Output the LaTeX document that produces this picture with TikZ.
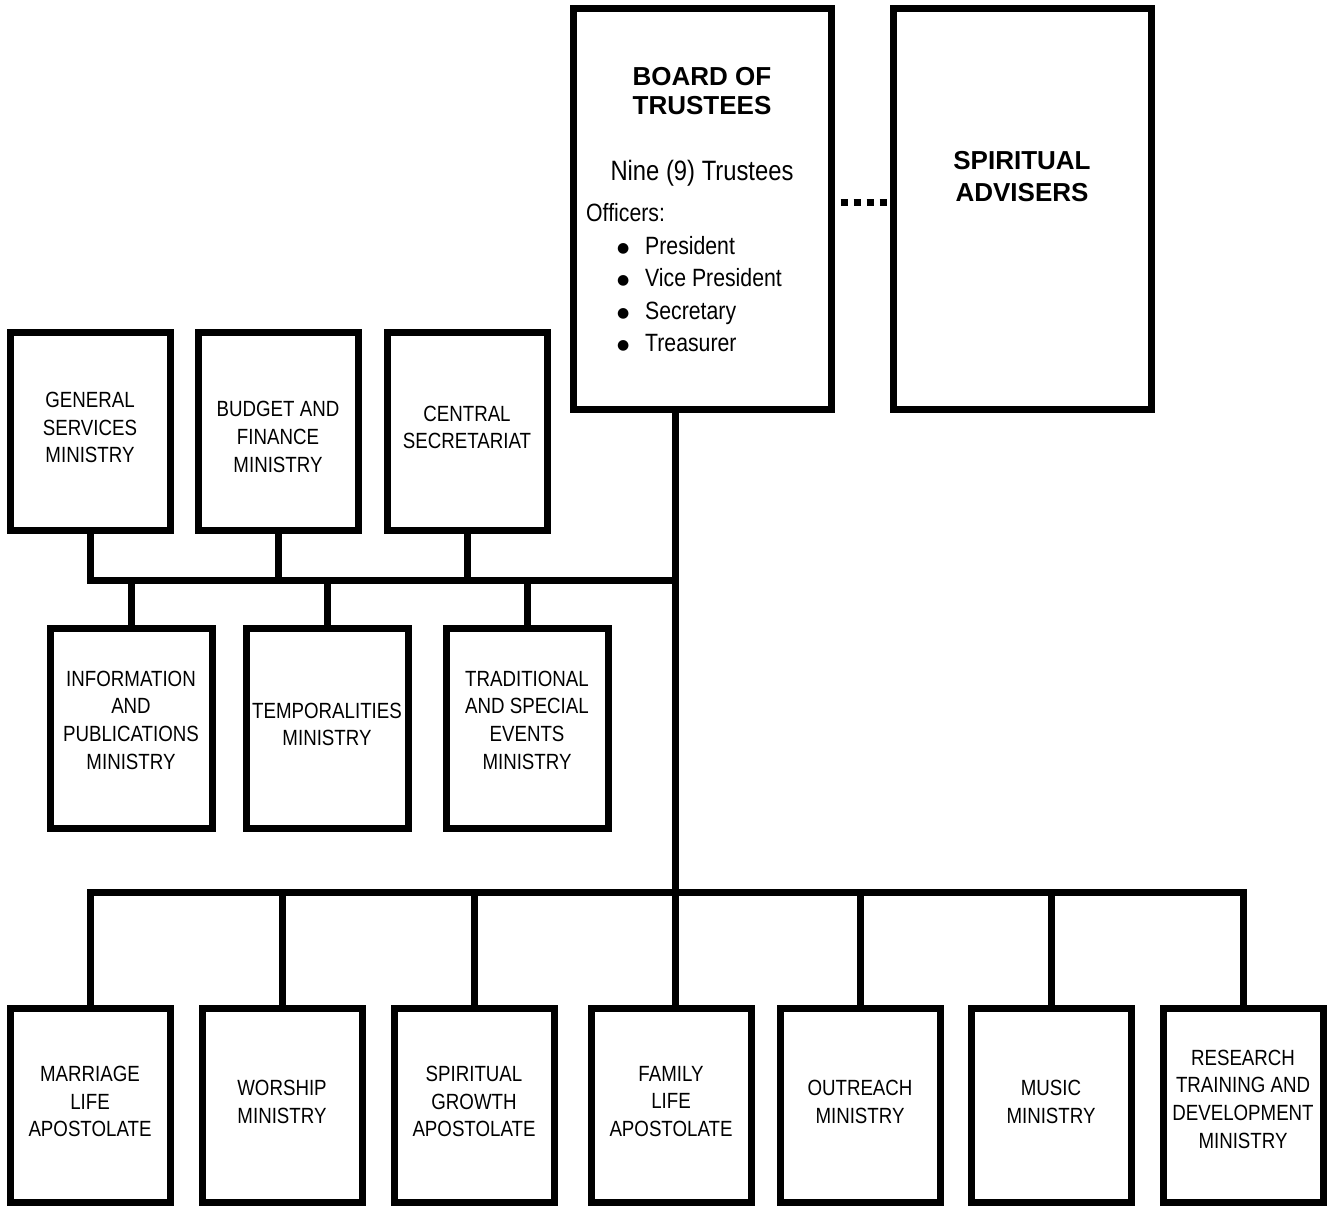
\documentclass[tikz,border=0pt]{standalone}
\usepackage{fontspec}
\setmainfont{Liberation Sans}
\newfontfamily\narrowfont[FakeStretch=0.85]{Liberation Sans}
\newfontfamily\symbolfont{DejaVu Sans}
\usetikzlibrary{positioning, calc}

% large round bullet for the officers list
\newcommand{\officer}[1]{\hspace*{31pt}\makebox[28pt][l]{\raisebox{2pt}{\symbolfont\fontsize{14}{14}\selectfont ●}}#1}

\begin{document}
\begin{tikzpicture}[
    x=1pt, y=-1pt, % pixel-like units, y grows downwards
    node distance=55pt,
    % --- Styles ---
    unit_box/.style={
        draw,
        rectangle,
        line width=7pt,
        inner sep=0pt,
        minimum width=160pt,
        minimum height=198pt
    },
    board_box/.style={
        unit_box,
        minimum width=258pt,
        minimum height=401pt
    },
    box_text/.style={
        align=center,
        inner sep=0pt,
        font=\narrowfont\fontsize{22}{27.7}\selectfont
    },
    main_line/.style={
        line width=7pt
    },
    % thick square dots between board and advisers
    dotted_link/.style={
        line width=7pt,
        dash pattern=on 7pt off 6pt,
        dash phase=7pt
    },
    title_text/.style={
        align=center,
        inner sep=0pt,
        font=\bfseries\fontsize{26}{29}\selectfont
    },
    body_text/.style={
        align=left,
        inner sep=0pt,
        font=\narrowfont\fontsize{25}{32.5}\selectfont
    }
    ]
    \useasboundingbox (0,0) rectangle (1330,1205);

    % 1. Board of trustees and spiritual advisers
    \node[board_box] (board) at (702,208.5) {};
    \node[board_box, right=of board] (advisers) {};

    \node[title_text] (board_title) at (702,91.5) {BOARD OF\\TRUSTEES};
    \node[body_text, font=\narrowfont\fontsize{28}{30}\selectfont] (board_count) at (702,173) {Nine (9) Trustees};
    \node[body_text, anchor=west] (board_officers) at (586,278) {Officers:\\
        \officer{President}\\
        \officer{Vice President}\\
        \officer{Secretary}\\
        \officer{Treasurer}};
    \node[title_text, font=\bfseries\fontsize{26}{32}\selectfont] (advisers_title) at (advisers.center |- 0,177) {SPIRITUAL\\ADVISERS};

    \draw[dotted_link] ([yshift=6pt]board.east) -- ([yshift=6pt]advisers.west);

    % 2. Upper ministries (two rows around the upper bus)
    \node[unit_box] (general) at (90,431) {};
    \node[unit_box] (budget) at (278,431) {};
    \node[unit_box] (central) at (467,431) {};
    \node[box_text] at ([yshift=3.5pt]general.center) {GENERAL\\SERVICES\\MINISTRY};
    \node[box_text] at ([yshift=-6pt]budget.center) {BUDGET AND\\FINANCE\\MINISTRY};
    \node[box_text] at ([yshift=3.5pt]central.center) {CENTRAL\\SECRETARIAT};

    \node[unit_box, minimum width=162pt, minimum height=200pt] (information) at (131,728) {};
    \node[unit_box, minimum width=162pt, minimum height=200pt] (temporalities) at (327,728) {};
    \node[unit_box, minimum width=162pt, minimum height=200pt] (traditional) at (527,728) {};
    \node[box_text] at ([yshift=8pt]information.center) {INFORMATION\\AND\\PUBLICATIONS\\MINISTRY};
    \node[box_text] at ([yshift=3.5pt]temporalities.center) {TEMPORALITIES\\MINISTRY};
    \node[box_text] at ([yshift=8pt]traditional.center) {TRADITIONAL\\AND SPECIAL\\EVENTS\\MINISTRY};

    % 3. Lower ministries and apostolates
    \node[unit_box, minimum height=194pt] (marriage) at (90,1105) {};
    \node[unit_box, minimum height=194pt] (worship) at (282,1105) {};
    \node[unit_box, minimum height=194pt] (growth) at (474,1105) {};
    \node[unit_box, minimum height=194pt] (family) at (671,1105) {};
    \node[unit_box, minimum height=194pt] (outreach) at (860,1105) {};
    \node[unit_box, minimum height=194pt] (music) at (1051,1105) {};
    \node[unit_box, minimum height=194pt] (research) at (1243,1105) {};
    \node[box_text] at ([yshift=3.5pt]marriage.center) {MARRIAGE\\LIFE\\APOSTOLATE};
    \node[box_text] at ([yshift=3pt]worship.center) {WORSHIP\\MINISTRY};
    \node[box_text] at ([yshift=3.5pt]growth.center) {SPIRITUAL\\GROWTH\\APOSTOLATE};
    \node[box_text] at ([yshift=3.5pt]family.center) {FAMILY\\LIFE\\APOSTOLATE};
    \node[box_text] at ([yshift=3pt]outreach.center) {OUTREACH\\MINISTRY};
    \node[box_text] at ([yshift=3pt]music.center) {MUSIC\\MINISTRY};
    \node[box_text] at ([yshift=6pt]research.center) {RESEARCH\\TRAINING AND\\DEVELOPMENT\\MINISTRY};

    % 4. Trunk and buses
    \coordinate (upper_bus) at (675,580);
    \coordinate (lower_bus) at (675,892);
    \draw[main_line] (board.south -| upper_bus) -- (lower_bus);

    \draw[main_line] (general.south) |- (upper_bus);
    \foreach \unit in {budget, central}
        \draw[main_line] (\unit.south) -- (\unit.south |- upper_bus);
    \foreach \unit in {information, temporalities, traditional}
        \draw[main_line] (\unit.north) -- (\unit.north |- upper_bus);

    \draw[main_line] (marriage.north) |- (lower_bus) -| (research.north);
    \foreach \unit in {worship, growth, outreach, music}
        \draw[main_line] (\unit.north) -- (\unit.north |- lower_bus);
    \draw[main_line] (lower_bus) -- (family.north -| lower_bus);

\end{tikzpicture}
\end{document}
